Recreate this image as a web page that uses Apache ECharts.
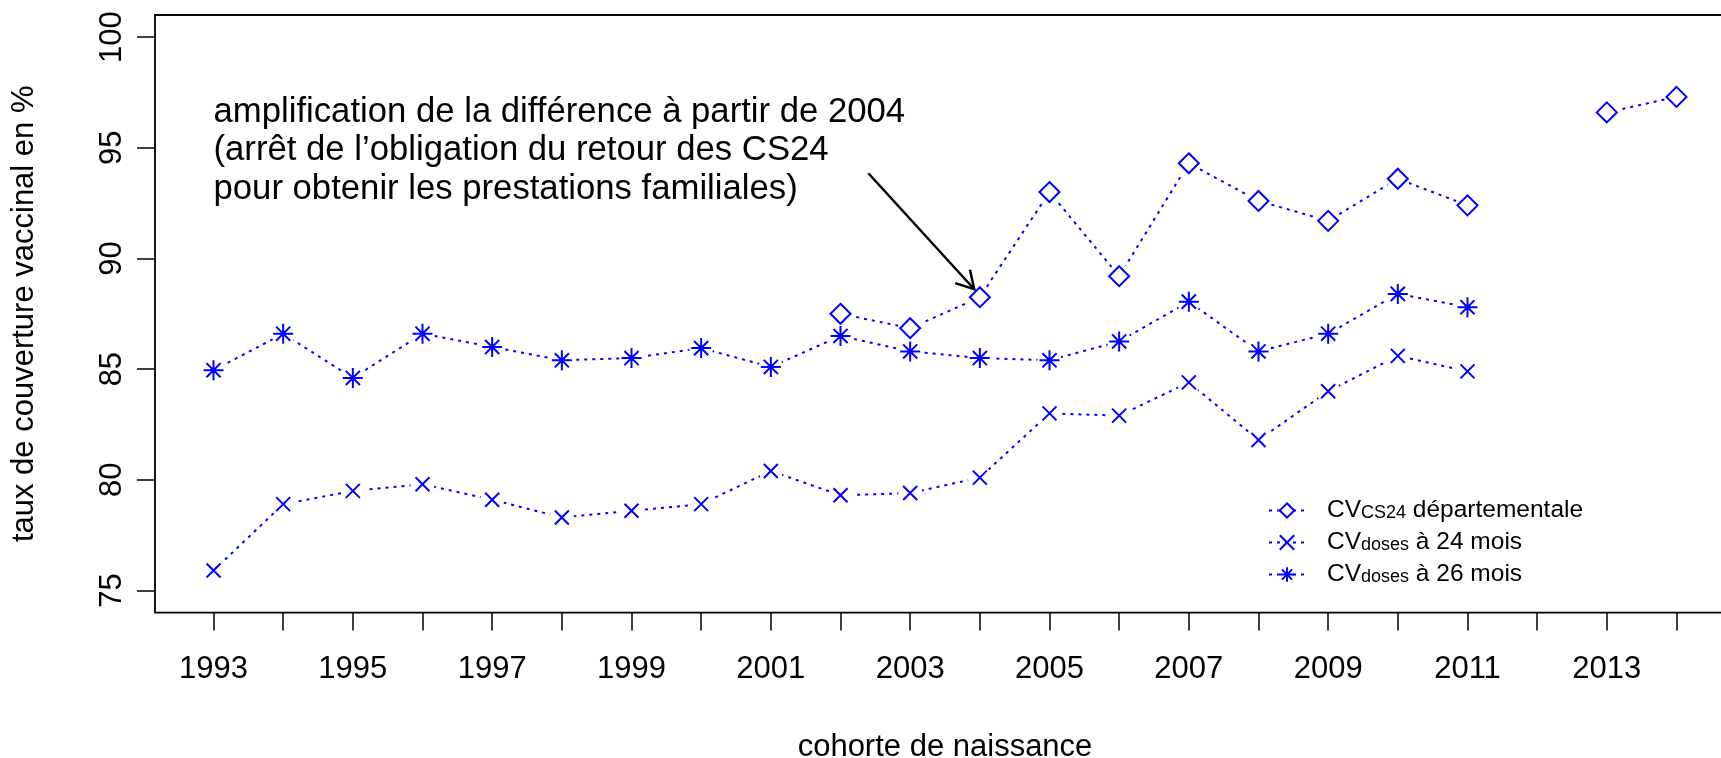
<!DOCTYPE html>
<html>
<head>
<meta charset="utf-8">
<script src="https://cdn.jsdelivr.net/npm/echarts@6/dist/echarts.min.js"></script>
<style>
html,body{margin:0;padding:0;background:#fff;}
#chart{width:1721px;height:758px;}
</style>
</head>
<body>
<div id="chart"></div>
<script>
// cohortes de naissance
var years = [1993,1994,1995,1996,1997,1998,1999,2000,2001,2002,2003,2004,2005,2006,2007,2008,2009,2010,2011,2012,2013,2014];
// CV CS24 départementale
var cs24 = [null,null,null,null,null,null,null,null,null,87.5,86.85,88.25,93.0,89.2,94.3,92.6,91.7,93.6,92.4,null,96.6,97.3];
// CV doses à 24 mois
var doses24 = [75.9,78.9,79.5,79.8,79.1,78.3,78.6,78.9,80.4,79.3,79.4,80.1,83.0,82.9,84.4,81.8,84.0,85.6,84.9,null,null,null];
// CV doses à 26 mois
var doses26 = [84.95,86.6,84.6,86.6,86.0,85.4,85.5,85.95,85.1,86.5,85.8,85.5,85.4,86.25,88.05,85.8,86.6,88.4,87.8,null,null,null];

var yTicks = [75,80,85,90,95,100];
var xTicks = years;
var xLabels = [1993,1995,1997,1999,2001,2003,2005,2007,2009,2011,2013];

var seriesNames = ['CV CS24 départementale','CV doses à 24 mois','CV doses à 26 mois'];
var legendSub = ['CS24','doses','doses'];
var legendRest = [' départementale',' à 24 mois',' à 26 mois'];

var noteLines = ['amplification de la différence à partir de 2004','(arrêt de l\u2019obligation du retour des CS24','pour obtenir les prestations familiales)'];
var noteAt = [1993, 94.86];
var arrowFrom = [2002.4, 93.85];
var arrowTo = [2003.92, 88.61];

var BLUE = '#0000ff';
var FONT = '"Liberation Sans", Arial, sans-serif';
var symX = 'path://M0,0L1,1M0,1L1,0';
var symStar = 'path://M0,-1.414L0,1.414M-1.414,0L1.414,0M-1,-1L1,1M-1,1L1,-1';

function pairs(vals){
	return years.map(function(y, i){ return [y, vals[i]]; });
}

var sets = [
	{data: cs24, symbol: 'diamond', size: 20, fill: '#fff'},
	{data: doses24, symbol: symX, size: 14, fill: 'transparent'},
	{data: doses26, symbol: symStar, size: 20, fill: 'transparent'}
];

var series = [];
sets.forEach(function(s, i){
	var d = pairs(s.data);
	// ligne pointillée (type "b")
	series.push({
		name: seriesNames[i], type: 'line', z: 1, data: d,
		symbol: s.symbol, symbolSize: s.size, showSymbol: true,
		lineStyle: {color: BLUE, width: 2, type: [3, 5]},
		itemStyle: {color: s.fill, borderColor: BLUE, borderWidth: 2},
		connectNulls: false, silent: true
	});
	// trou blanc autour des points
	series.push({
		type: 'scatter', z: 2, silent: true, data: d,
		symbol: 'circle', symbolSize: 24,
		itemStyle: {color: '#fff', opacity: 1}
	});
	// marqueurs
	series.push({
		type: 'scatter', z: 3, silent: true, data: d,
		symbol: s.symbol, symbolSize: s.size,
		itemStyle: {color: s.fill, borderColor: BLUE, borderWidth: 2, opacity: 1}
	});
});

// annotation + flèche
series.push({
	type: 'custom', z: 10, silent: true,
	data: [noteAt],
	renderItem: function(params, api){
		var p = api.coord(noteAt);
		var a = api.coord(arrowFrom);
		var b = api.coord(arrowTo);
		var ang = Math.atan2(b[1] - a[1], b[0] - a[0]);
		var hl = 20;
		var h1 = [b[0] - hl * Math.cos(ang - Math.PI / 6), b[1] - hl * Math.sin(ang - Math.PI / 6)];
		var h2 = [b[0] - hl * Math.cos(ang + Math.PI / 6), b[1] - hl * Math.sin(ang + Math.PI / 6)];
		return {
			type: 'group',
			children: [
				{type: 'text', style: {x: p[0], y: p[1], text: noteLines.join('\n'), fontSize: 34.7, fontFamily: FONT, fill: '#000', align: 'left', verticalAlign: 'middle', lineHeight: 38.5}},
				{type: 'line', shape: {x1: a[0], y1: a[1], x2: b[0], y2: b[1]}, style: {stroke: '#000', lineWidth: 2.5}},
				{type: 'polyline', shape: {points: [h1, b, h2]}, style: {stroke: '#000', lineWidth: 2.5, fill: null}}
			]
		};
	}
});

var chart = echarts.init(document.getElementById('chart'));
chart.setOption({
	animation: false,
	backgroundColor: '#fff',
	grid: {left: 155, top: 15, width: 1580, height: 597.6, outerBoundsMode: 'none', containLabel: false,
		show: true, borderColor: '#000', borderWidth: 1.8, backgroundColor: 'transparent'},
	legend: {
		orient: 'vertical', left: 1263, top: 493,
		itemWidth: 36, itemHeight: 18, itemGap: 7,
		selectedMode: false,
		data: seriesNames,
		formatter: function(name){
			var i = seriesNames.indexOf(name);
			return '{m|CV}{s|' + legendSub[i] + '}{m|' + legendRest[i] + '}';
		},
		textStyle: {
			padding: [0, 0, 0, 17],
			rich: {
				m: {fontSize: 24.5, lineHeight: 24, color: '#000', fontFamily: FONT},
				s: {fontSize: 18, lineHeight: 6, verticalAlign: 'bottom', color: '#000', fontFamily: FONT}
			}
		}
	},
	xAxis: {
		type: 'value', min: 1992.16, max: 2014.84,
		name: 'cohorte de naissance', nameLocation: 'middle', nameGap: 119,
		nameTextStyle: {fontSize: 31, color: '#000', fontFamily: FONT},
		splitLine: {show: false},
		axisLine: {show: false},
		axisTick: {show: true, length: 18, lineStyle: {color: '#000', width: 1.5}, customValues: xTicks},
		axisLabel: {fontSize: 31, color: '#000', fontFamily: FONT, margin: 41, customValues: xLabels, formatter: function(v){ return String(v); }}
	},
	yAxis: {
		type: 'value', min: 74, max: 101,
		name: 'taux de couverture vaccinal en %', nameLocation: 'middle', nameGap: 115, nameRotate: 90,
		nameTextStyle: {fontSize: 31, color: '#000', fontFamily: FONT},
		splitLine: {show: false},
		axisLine: {show: false},
		axisTick: {show: true, length: 18, lineStyle: {color: '#000', width: 1.5}, customValues: yTicks},
		axisLabel: {fontSize: 31, color: '#000', fontFamily: FONT, margin: 27, rotate: 90, customValues: yTicks}
	},
	series: series
});
</script>
</body>
</html>
